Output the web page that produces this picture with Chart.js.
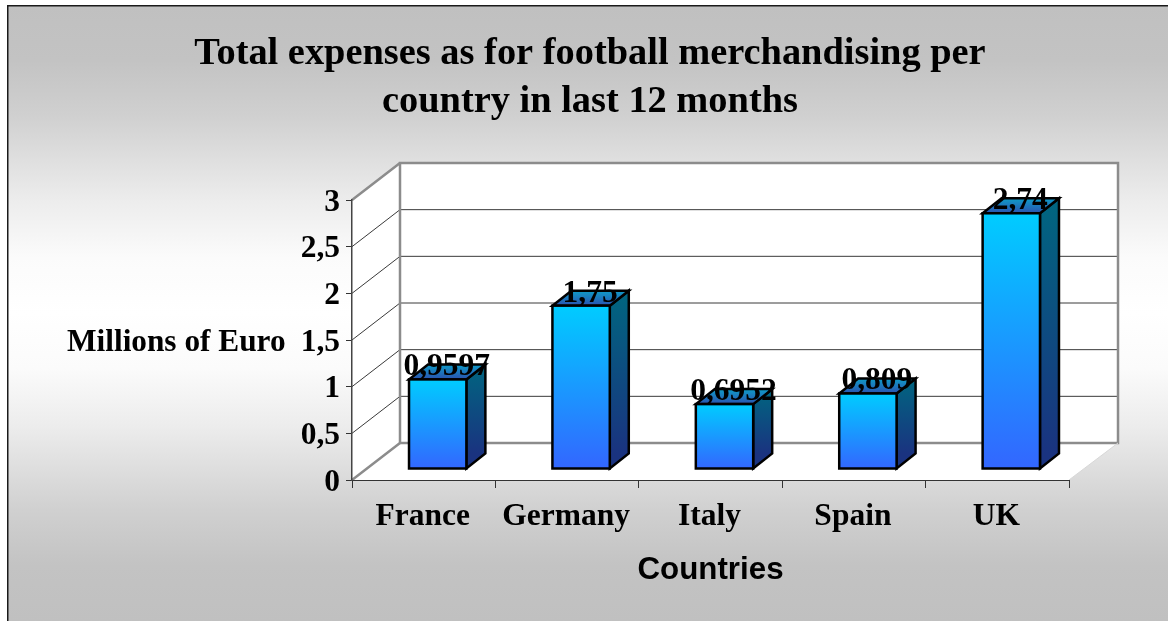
<!DOCTYPE html>
<html>
<head>
<meta charset="utf-8">
<style>
html,body{margin:0;padding:0;background:#fff;overflow:hidden}
#wrap{position:absolute;left:0;top:0;width:1168px;height:621px}
</style>
<script src="https://cdn.jsdelivr.net/npm/chart.js@4/dist/chart.umd.js"></script>
</head>
<body>
<div id="wrap"><canvas id="c" width="1168" height="621"></canvas></div>
<script>
const countries = ['France', 'Germany', 'Italy', 'Spain', 'UK'];
const expenses = [0.9597, 1.75, 0.6952, 0.809, 2.74];
const titleLines = ['Total expenses as for football merchandising per', 'country in last 12 months'];
const yAxisTitle = 'Millions of Euro';
const xAxisTitle = 'Countries';

const SERIF = '"Liberation Serif", "Times New Roman", serif';
const SANS = '"Liberation Sans", Arial, sans-serif';
const commaText = v => String(v).replace('.', ',');

// Oblique projection of the 3D box: wall depth and the bars' own depth.
const WALL = {dx: 48, dy: -37};
const BAR_SHIFT = {dx: 14, dy: -11};
const BAR_DEPTH = {dx: 19, dy: -15};

function path(ctx, pts) {
  ctx.beginPath();
  pts.forEach((p, i) => i ? ctx.lineTo(p[0], p[1]) : ctx.moveTo(p[0], p[1]));
  ctx.closePath();
}

// Nudges a scale's tick labels without touching its ticks or gridlines.
function shiftLabels(scale, dx, dy) {
  if (scale.__shifted) return;
  scale.__shifted = true;
  const original = scale.drawLabels;
  scale.drawLabels = function (area) {
    this.ctx.save();
    this.ctx.translate(dx, dy);
    original.call(this, area);
    this.ctx.restore();
  };
}

const box3d = {
  id: 'box3d',
  beforeDraw(chart) {
    const {ctx, width, height, chartArea: a} = chart;
    ctx.save();
    // Panel with the mirrored grey gradient and its top and left frame
    ctx.fillStyle = '#fff';
    ctx.fillRect(0, 0, width, height);
    const g = ctx.createLinearGradient(0, 5, 0, height);
    [[0, '#c0c0c0'], [0.09, '#c3c3c3'], [0.18, '#d0d0d0'], [0.315, '#ececec'], [0.41, '#fbfbfb'], [0.5, '#ffffff'],
     [0.59, '#fbfbfb'], [0.685, '#ececec'], [0.82, '#d0d0d0'], [0.91, '#c3c3c3'], [1, '#c0c0c0']]
      .forEach(s => g.addColorStop(s[0], s[1]));
    ctx.fillStyle = g;
    ctx.fillRect(7, 5, width - 7, height - 5);
    ctx.fillStyle = '#1a1a1a';
    ctx.fillRect(7, 5, width - 7, 1.5);
    ctx.fillRect(7, 5, 1.5, height - 5);

    // Side wall, floor and back wall
    const {dx, dy} = WALL;
    const w = a.right - a.left + 1;
    ctx.fillStyle = '#fff';
    path(ctx, [[a.left, a.bottom], [a.left + dx, a.bottom + dy], [a.left + dx, a.top + dy], [a.left, a.top]]);
    ctx.fill();
    path(ctx, [[a.left, a.bottom], [a.right, a.bottom], [a.right + dx + 1, a.bottom + dy], [a.left + dx, a.bottom + dy]]);
    ctx.fill();
    ctx.fillRect(a.left + dx, a.top + dy, w, a.bottom - a.top);

    // Gridlines run along the side wall and across the back wall
    const y = chart.scales.y;
    ctx.strokeStyle = '#3a3a3a';
    ctx.lineWidth = 1;
    y.ticks.forEach(t => {
      const py = y.getPixelForValue(t.value);
      if (t.value === 0) return;
      ctx.beginPath();
      ctx.moveTo(a.left, py);
      ctx.lineTo(a.left + dx, py + dy);
      if (t.value < y.max) ctx.lineTo(a.right + dx + 1, py + dy);
      ctx.stroke();
    });

    ctx.strokeStyle = '#8c8c8c';
    ctx.lineWidth = 2.5;
    ctx.strokeRect(a.left + dx, a.top + dy, w, a.bottom - a.top);
    ctx.beginPath();
    ctx.moveTo(a.left, a.bottom);
    ctx.lineTo(a.left + dx, a.bottom + dy);
    ctx.moveTo(a.left + dx, a.top + dy);
    ctx.lineTo(a.left, a.top);
    ctx.stroke();
    ctx.strokeStyle = '#d8d8d8';
    ctx.lineWidth = 1;
    ctx.beginPath();
    ctx.moveTo(a.right, a.bottom);
    ctx.lineTo(a.right + dx + 1, a.bottom + dy);
    ctx.stroke();
    ctx.restore();
  },
  beforeDatasetDraw(chart, args) {
    const {ctx} = chart;
    const meta = chart.getDatasetMeta(args.index);
    const {dx, dy} = BAR_DEPTH;
    ctx.save();
    ctx.translate(BAR_SHIFT.dx, BAR_SHIFT.dy);
    ctx.lineJoin = 'miter';
    ctx.strokeStyle = '#000';
    ctx.lineWidth = 2.5;
    meta.data.forEach(bar => {
      const half = bar.width / 2;
      const l = bar.x - half, r = bar.x + half, t = bar.y, b = bar.base;
      // Side face
      const side = ctx.createLinearGradient(0, t + dy, 0, b + dy);
      side.addColorStop(0, '#006680');
      side.addColorStop(1, '#1a3380');
      ctx.fillStyle = side;
      path(ctx, [[r, t], [r + dx, t + dy], [r + dx, b + dy], [r, b]]);
      ctx.fill();
      ctx.stroke();
      // Top face
      const top = ctx.createLinearGradient(0, t + dy, 0, t);
      top.addColorStop(0, '#0f9cc8');
      top.addColorStop(1, '#2a52b0');
      ctx.fillStyle = top;
      path(ctx, [[l, t], [l + dx, t + dy], [r + dx, t + dy], [r, t]]);
      ctx.fill();
      ctx.stroke();
    });
  },
  afterDatasetDraw(chart, args) {
    const {ctx} = chart;
    // Outline of the front faces, still in the shifted bar plane
    chart.getDatasetMeta(args.index).data.forEach(bar => {
      ctx.strokeRect(bar.x - bar.width / 2, bar.y, bar.width, bar.base - bar.y);
    });
    ctx.restore();
  },
  afterDatasetsDraw(chart) {
    const {ctx} = chart;
    const meta = chart.getDatasetMeta(0);
    ctx.save();
    ctx.fillStyle = '#000';
    ctx.font = 'bold 31.5px ' + SERIF;
    ctx.textAlign = 'center';
    ctx.textBaseline = 'alphabetic';
    meta.data.forEach((bar, i) => {
      ctx.fillText(commaText(expenses[i]), bar.x + BAR_SHIFT.dx + 9, bar.y + BAR_SHIFT.dy - 4);
    });
    ctx.restore();
  },
  afterDraw(chart) {
    const {ctx} = chart;
    ctx.save();
    ctx.fillStyle = '#000';
    ctx.textBaseline = 'middle';
    ctx.textAlign = 'center';
    ctx.font = 'bold 38.4px ' + SERIF;
    titleLines.forEach((line, i) => ctx.fillText(line, 590, 54 + i * 48));
    ctx.font = 'bold 31.3px ' + SERIF;
    ctx.textAlign = 'left';
    ctx.fillText(yAxisTitle, 67, 343);
    ctx.restore();
  }
};

new Chart(document.getElementById('c'), {
  type: 'bar',
  data: {
    labels: countries,
    datasets: [{
      data: expenses,
      clip: false,
      barPercentage: 0.4,
      categoryPercentage: 1,
      borderWidth: 0,
      backgroundColor(c) {
        const {ctx, chartArea, scales} = c.chart;
        if (!chartArea) return '#1a99ff';
        const v = c.raw === undefined ? 0 : c.raw;
        const g = ctx.createLinearGradient(0, scales.y.getPixelForValue(v), 0, scales.y.getPixelForValue(0));
        g.addColorStop(0, '#00ccff');
        g.addColorStop(1, '#3366ff');
        return g;
      }
    }]
  },
  plugins: [box3d],
  options: {
    responsive: false,
    animation: false,
    events: [],
    layout: {padding: {top: 200, right: 99, left: 0, bottom: 32}},
    plugins: {legend: {display: false}, title: {display: false}, tooltip: {enabled: false}},
    scales: {
      x: {
        afterFit(s) { s.height = 109; shiftLabels(s, -1, 0); },
        grid: {drawOnChartArea: false, drawTicks: true, tickLength: 8, color: '#333', offset: true},
        border: {display: true, color: '#333', width: 1},
        ticks: {color: '#000', font: {family: SERIF, weight: 'bold', size: 31.5}, padding: 10, maxRotation: 0},
        title: {display: true, text: xAxisTitle, color: '#000', font: {family: SANS, weight: 'bold', size: 31.3}, padding: {top: 12, bottom: 0}}
      },
      y: {
        min: 0,
        max: 3,
        afterFit(s) { s.width = 352; shiftLabels(s, 0, 2.5); },
        grid: {drawOnChartArea: false, drawTicks: true, tickLength: 6, color: '#333'},
        border: {display: true, color: '#444', width: 1.5},
        ticks: {
          stepSize: 0.5,
          color: '#000',
          padding: 6,
          font: {family: SERIF, weight: 'bold', size: 31.5},
          callback: v => commaText(v)
        }
      }
    }
  }
});
</script>
</body>
</html>
